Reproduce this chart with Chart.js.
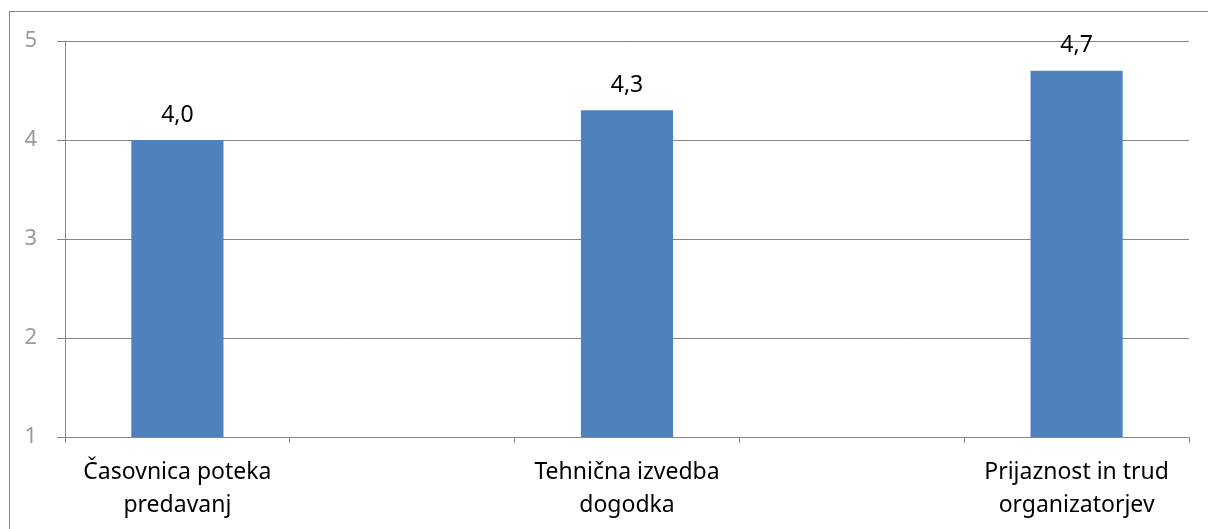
<!DOCTYPE html>
<html>
<head>
<meta charset="utf-8">
<script src="https://cdn.jsdelivr.net/npm/chart.js@4"></script>
<style>
  html, body { margin: 0; padding: 0; background: #fff; overflow: hidden; }
  #wrap { position: relative; width: 1208px; height: 529px; }
  #frame { position: absolute; left: 9px; top: 11px; width: 1400px; height: 700px;
           border-left: 1px solid #868686; border-top: 1px solid #868686; pointer-events: none; }
  canvas { position: absolute; left: 0; top: 0; }
</style>
</head>
<body>
<div id="wrap">
  <canvas id="c" width="1208" height="529"></canvas>
  <div id="frame"></div>
</div>
<script>
const categories = [
  ['Časovnica poteka', 'predavanj'],
  '',
  ['Tehnična izvedba', 'dogodka'],
  '',
  ['Prijaznost in trud', 'organizatorjev']
];
const values = [4.0, null, 4.3, null, 4.7];
const yTicks = [1, 2, 3, 4, 5];

const FONT = '"Noto Sans", "Open Sans", sans-serif';
const GRID = '#868686';

const dataLabels = {
  id: 'dataLabels',
  afterDatasetsDraw(chart) {
    const ctx = chart.ctx;
    const meta = chart.getDatasetMeta(0);
    ctx.save();
    ctx.font = '23px ' + FONT;
    ctx.fillStyle = '#000';
    ctx.textAlign = 'center';
    ctx.textBaseline = 'middle';
    meta.data.forEach((bar, i) => {
      const v = values[i];
      if (v === null || v === undefined) return;
      ctx.fillText(v.toFixed(1).replace('.', ','), bar.x, bar.y - 25);
    });
    ctx.restore();
  }
};

new Chart(document.getElementById('c'), {
  type: 'bar',
  data: {
    labels: categories,
    datasets: [{
      data: values,
      backgroundColor: '#4F81BD',
      borderWidth: 0,
      categoryPercentage: 1.0,
      barPercentage: 0.41
    }]
  },
  options: {
    responsive: false,
    animation: false,
    devicePixelRatio: 1,
    layout: { padding: { top: 41, right: 19, left: 0, bottom: 0 } },
    plugins: { legend: { display: false }, tooltip: { enabled: false } },
    scales: {
      x: {
        grid: { display: true, drawOnChartArea: false, drawTicks: true, tickLength: 6, offset: true, color: GRID },
        border: { display: true, color: GRID },
        ticks: { color: '#000', font: { family: FONT, size: 23, lineHeight: '33px' }, padding: 13, maxRotation: 0, autoSkip: false },
        afterFit(s) { s.height = 92; }
      },
      y: {
        min: 1, max: 5,
        afterBuildTicks(s) { s.ticks = yTicks.map(v => ({ value: v })); },
        grid: { color: GRID, tickLength: 8 },
        border: { display: true, color: GRID },
        ticks: { color: '#9a9a9a', font: { family: FONT, size: 22 }, padding: 20, stepSize: 1 },
        afterFit(s) { s.width = 65; }
      }
    }
  },
  plugins: [dataLabels]
});
</script>
</body>
</html>
